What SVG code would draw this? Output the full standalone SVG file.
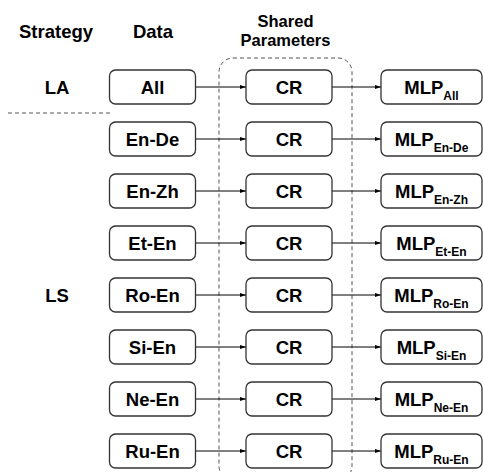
<svg xmlns="http://www.w3.org/2000/svg" width="483" height="472" viewBox="0 0 483 472">
<defs>
<marker id="ah" markerWidth="6" markerHeight="6" refX="6" refY="3" orient="auto" markerUnits="userSpaceOnUse"><path d="M0,1 L6,3 L0,5 Z" fill="#000"/></marker>
<style>
.b{fill:#fff;stroke:#333;stroke-width:1.3}
.t{font-family:"Liberation Sans",Arial,sans-serif;font-weight:bold;font-size:18.5px;fill:#000;text-anchor:middle}
.h2{font-size:16.5px}
.s{font-size:12px}
.c{stroke:#000;stroke-width:1;fill:none;marker-end:url(#ah)}
</style>
</defs>
<rect width="483" height="472" fill="#fff"/>
<g id="headers">
<text class="t" x="56" y="38">Strategy</text>
<text class="t" x="153" y="38">Data</text>
<text class="t h2" x="285.5" y="27">Shared</text>
<text class="t h2" x="285.5" y="46">Parameters</text>
</g>
<g id="strategy-labels">
<text class="t" x="57" y="94">LA</text>
<text class="t" x="57" y="302">LS</text>
<line x1="8" y1="113" x2="110" y2="113" stroke="#555" stroke-width="1" stroke-dasharray="4,3"/>
</g>
<g id="shared-params">
<rect x="219" y="58" width="133" height="422" rx="14" fill="none" stroke="#555" stroke-width="1" stroke-dasharray="4,3"/>
</g>
<g id="connectors">
<path class="c" d="M195.5,87 H246"/><path class="c" d="M332,87 H381"/>
<path class="c" d="M195.5,139 H246"/><path class="c" d="M332,139 H381"/>
<path class="c" d="M195.5,191 H246"/><path class="c" d="M332,191 H381"/>
<path class="c" d="M195.5,243 H246"/><path class="c" d="M332,243 H381"/>
<path class="c" d="M195.5,295 H246"/><path class="c" d="M332,295 H381"/>
<path class="c" d="M195.5,347 H246"/><path class="c" d="M332,347 H381"/>
<path class="c" d="M195.5,399 H246"/><path class="c" d="M332,399 H381"/>
<path class="c" d="M195.5,451 H246"/><path class="c" d="M332,451 H381"/>
</g>
<g id="data-all"><rect class="b" x="109.5" y="70" width="86" height="34" rx="6"/><text class="t" x="152.5" y="94">All</text></g>
<g id="data-en-de"><rect class="b" x="109.5" y="122" width="86" height="34" rx="6"/><text class="t" x="152.5" y="146">En-De</text></g>
<g id="data-en-zh"><rect class="b" x="109.5" y="174" width="86" height="34" rx="6"/><text class="t" x="152.5" y="198">En-Zh</text></g>
<g id="data-et-en"><rect class="b" x="109.5" y="226" width="86" height="34" rx="6"/><text class="t" x="152.5" y="250">Et-En</text></g>
<g id="data-ro-en"><rect class="b" x="109.5" y="278" width="86" height="34" rx="6"/><text class="t" x="152.5" y="302">Ro-En</text></g>
<g id="data-si-en"><rect class="b" x="109.5" y="330" width="86" height="34" rx="6"/><text class="t" x="152.5" y="354">Si-En</text></g>
<g id="data-ne-en"><rect class="b" x="109.5" y="382" width="86" height="34" rx="6"/><text class="t" x="152.5" y="406">Ne-En</text></g>
<g id="data-ru-en"><rect class="b" x="109.5" y="434" width="86" height="34" rx="6"/><text class="t" x="152.5" y="458">Ru-En</text></g>
<g id="cr-1"><rect class="b" x="246" y="70" width="86" height="34" rx="6"/><text class="t" x="289" y="94">CR</text></g>
<g id="cr-2"><rect class="b" x="246" y="122" width="86" height="34" rx="6"/><text class="t" x="289" y="146">CR</text></g>
<g id="cr-3"><rect class="b" x="246" y="174" width="86" height="34" rx="6"/><text class="t" x="289" y="198">CR</text></g>
<g id="cr-4"><rect class="b" x="246" y="226" width="86" height="34" rx="6"/><text class="t" x="289" y="250">CR</text></g>
<g id="cr-5"><rect class="b" x="246" y="278" width="86" height="34" rx="6"/><text class="t" x="289" y="302">CR</text></g>
<g id="cr-6"><rect class="b" x="246" y="330" width="86" height="34" rx="6"/><text class="t" x="289" y="354">CR</text></g>
<g id="cr-7"><rect class="b" x="246" y="382" width="86" height="34" rx="6"/><text class="t" x="289" y="406">CR</text></g>
<g id="cr-8"><rect class="b" x="246" y="434" width="86" height="34" rx="6"/><text class="t" x="289" y="458">CR</text></g>
<g id="mlp-all"><rect class="b" x="381" y="70" width="101" height="34" rx="6"/><text class="t" x="431.5" y="94">MLP<tspan class="s" dy="6">All</tspan></text></g>
<g id="mlp-en-de"><rect class="b" x="381" y="122" width="101" height="34" rx="6"/><text class="t" x="431.5" y="146">MLP<tspan class="s" dy="6">En-De</tspan></text></g>
<g id="mlp-en-zh"><rect class="b" x="381" y="174" width="101" height="34" rx="6"/><text class="t" x="431.5" y="198">MLP<tspan class="s" dy="6">En-Zh</tspan></text></g>
<g id="mlp-et-en"><rect class="b" x="381" y="226" width="101" height="34" rx="6"/><text class="t" x="431.5" y="250">MLP<tspan class="s" dy="6">Et-En</tspan></text></g>
<g id="mlp-ro-en"><rect class="b" x="381" y="278" width="101" height="34" rx="6"/><text class="t" x="431.5" y="302">MLP<tspan class="s" dy="6">Ro-En</tspan></text></g>
<g id="mlp-si-en"><rect class="b" x="381" y="330" width="101" height="34" rx="6"/><text class="t" x="431.5" y="354">MLP<tspan class="s" dy="6">Si-En</tspan></text></g>
<g id="mlp-ne-en"><rect class="b" x="381" y="382" width="101" height="34" rx="6"/><text class="t" x="431.5" y="406">MLP<tspan class="s" dy="6">Ne-En</tspan></text></g>
<g id="mlp-ru-en"><rect class="b" x="381" y="434" width="101" height="34" rx="6"/><text class="t" x="431.5" y="458">MLP<tspan class="s" dy="6">Ru-En</tspan></text></g>
</svg>
